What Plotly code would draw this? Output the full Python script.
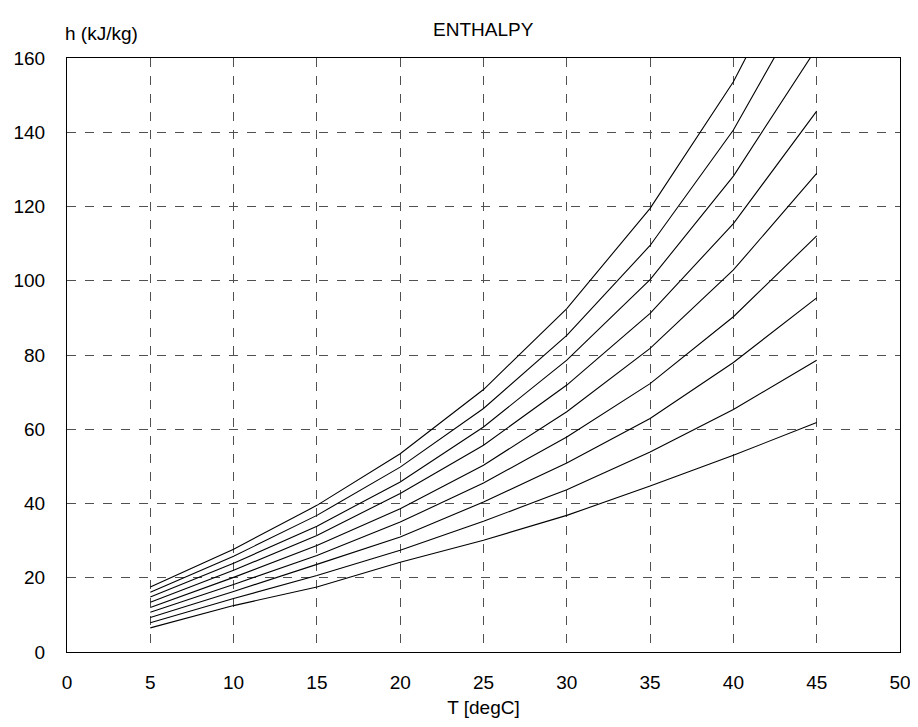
import plotly.graph_objects as go

temps = [5, 10, 15, 20, 25, 30, 35, 40, 45]

# enthalpy curves (kJ/kg), one per humidity level
h_10 = [6.5, 12.5, 17.5, 24.2, 30.1, 36.8, 44.7, 53.0, 61.8]
h_20 = [7.9, 14.4, 20.6, 27.4, 35.2, 43.7, 53.9, 65.3, 78.6]
h_30 = [9.3, 16.3, 23.6, 31.0, 40.4, 50.9, 62.9, 78.0, 95.4]
h_40 = [10.7, 18.2, 26.0, 35.0, 45.5, 57.9, 72.3, 90.3, 112.1]
h_50 = [12.0, 20.1, 28.7, 38.6, 50.3, 64.7, 81.8, 102.9, 128.9]
h_60 = [13.4, 22.0, 31.4, 42.7, 55.7, 71.9, 91.2, 115.4, 145.7]
h_70 = [14.8, 23.9, 33.9, 45.8, 60.6, 78.6, 100.3, 128.2, 162.7]
h_80 = [16.1, 25.8, 36.8, 49.8, 65.6, 85.3, 109.5, 140.6, 180.3]
h_90 = [17.5, 27.7, 39.5, 53.4, 70.7, 92.5, 119.5, 153.6, 197.0]

series = [h_10, h_20, h_30, h_40, h_50, h_60, h_70, h_80, h_90]

x_ticks = [0, 5, 10, 15, 20, 25, 30, 35, 40, 45, 50]
y_ticks = [0, 20, 40, 60, 80, 100, 120, 140, 160]

fig = go.Figure()
for s in series:
    fig.add_trace(go.Scatter(x=temps, y=s, mode="lines",
                             line=dict(color="black", width=1.1),
                             showlegend=False, hoverinfo="x+y"))

font = dict(family="Liberation Sans, Arial, sans-serif", size=19, color="black")

axis_common = dict(
    showgrid=True, gridcolor="#505050", gridwidth=1, griddash="dash",
    showline=True, linecolor="black", linewidth=1, mirror=True,
    ticks="", zeroline=False, tickfont=font, automargin=False,
)

fig.update_layout(
    width=910, height=719,
    paper_bgcolor="white", plot_bgcolor="white",
    margin=dict(l=59, r=18, t=50, b=75),
    font=font,
    xaxis=dict(range=[0, 50], tickvals=x_ticks, ticktext=[str(v) for v in x_ticks],
               ticklabelstandoff=13,
               title=dict(text="T [degC]", font=font, standoff=8), **axis_common),
    yaxis=dict(range=[0, 160], tickvals=y_ticks, ticktext=[str(v) for v in y_ticks],
               ticklabelstandoff=17, **axis_common),
    annotations=[
        dict(text="ENTHALPY", x=0.5, y=1.0, xref="paper", yref="paper",
             xanchor="center", yanchor="bottom", yshift=16, showarrow=False, font=font),
        dict(text="h (kJ/kg)", x=0.0, y=1.0, xref="paper", yref="paper",
             xanchor="left", yanchor="bottom", yshift=12, xshift=-4, showarrow=False, font=font),
    ],
)

fig.write_html("out.html")
